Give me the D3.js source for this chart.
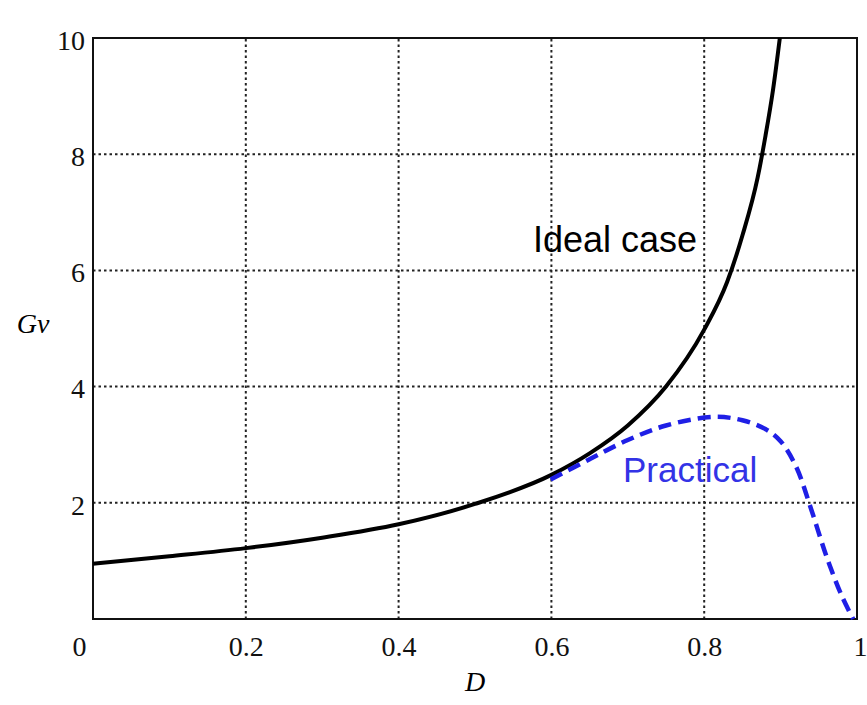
<!DOCTYPE html>
<html>
<head>
<meta charset="utf-8">
<script src="https://cdn.jsdelivr.net/npm/d3@7"></script>
<style>
  body { margin: 0; background: #fff; }
  svg { display: block; }
  .tick-label { font-family: 'Liberation Serif', 'DejaVu Serif', serif; font-size: 28px; fill: #111; }
</style>
</head>
<body>
<div id="chart"></div>
<script>
// Data
const idealD  = [0, 0.1, 0.2, 0.3, 0.4, 0.5, 0.6, 0.65, 0.7, 0.75, 0.8, 0.83, 0.85, 0.87, 0.88, 0.89, 0.899];
const idealGv = [0.95, 1.08, 1.22, 1.4, 1.63, 1.98, 2.48, 2.85, 3.33, 4.0, 4.98, 5.8, 6.6, 7.6, 8.3, 9.1, 10];

const practicalD  = [0.599, 0.65, 0.7, 0.75, 0.813, 0.85, 0.88, 0.9, 0.92, 0.94, 0.96, 0.98, 0.995];
const practicalGv = [2.4, 2.75, 3.08, 3.33, 3.48, 3.42, 3.27, 3.06, 2.63, 1.89, 1.08, 0.4, 0];

const xTicks = [0, 0.2, 0.4, 0.6, 0.8, 1];
const xTickLabels = ['0', '0.2', '0.4', '0.6', '0.8', '1'];
const yTicks = [2, 4, 6, 8, 10];

const width = 867, height = 705;
const margin = { top: 38, right: 10, bottom: 86, left: 93 };

const svg = d3.select('#chart').append('svg')
    .attr('width', width)
    .attr('height', height);

const x = d3.scaleLinear().domain([0, 1]).range([margin.left, width - margin.right]);
const y = d3.scaleLinear().domain([0, 10]).range([height - margin.bottom, margin.top]);

// dotted grid
svg.append('g')
    .selectAll('line')
    .data(xTicks.slice(1, -1))
    .join('line')
    .attr('x1', d => x(d)).attr('x2', d => x(d))
    .attr('y1', y(0)).attr('y2', y(10))
    .attr('stroke', '#222')
    .attr('stroke-width', 2)
    .attr('stroke-dasharray', '2.5,3');

svg.append('g')
    .selectAll('line')
    .data(yTicks.slice(0, -1))
    .join('line')
    .attr('x1', x(0)).attr('x2', x(1))
    .attr('y1', d => y(d)).attr('y2', d => y(d))
    .attr('stroke', '#222')
    .attr('stroke-width', 2)
    .attr('stroke-dasharray', '2.5,3');

// frame
svg.append('rect')
    .attr('x', x(0)).attr('y', y(10))
    .attr('width', x(1) - x(0))
    .attr('height', y(0) - y(10))
    .attr('fill', 'none')
    .attr('stroke', '#111')
    .attr('stroke-width', 2);

// axes (labels only, frame drawn above)
const xAxis = svg.append('g')
    .attr('transform', `translate(0,${y(0)})`)
    .call(d3.axisBottom(x).tickValues(xTicks).tickSize(0).tickPadding(17)
        .tickFormat((d, i) => xTickLabels[i]));
xAxis.select('.domain').remove();
xAxis.selectAll('text')
    .attr('class', 'tick-label')
    .attr('fill', null)
    .attr('dx', d => d === 0 ? -14 : (d === 1 ? 3 : 0));

const yAxis = svg.append('g')
    .attr('transform', `translate(${x(0)},0)`)
    .call(d3.axisLeft(y).tickValues(yTicks).tickSize(0).tickPadding(8));
yAxis.select('.domain').remove();
yAxis.selectAll('text')
    .attr('class', 'tick-label')
    .attr('fill', null)
    .attr('dy', '0.4em');

// axis titles
svg.append('text')
    .attr('x', 33).attr('y', 333)
    .attr('text-anchor', 'middle')
    .attr('font-family', "'Liberation Serif', serif")
    .attr('font-style', 'italic')
    .attr('font-size', 28)
    .text('Gv');

svg.append('text')
    .attr('x', (x(0) + x(1)) / 2).attr('y', 691)
    .attr('text-anchor', 'middle')
    .attr('font-family', "'Liberation Serif', serif")
    .attr('font-style', 'italic')
    .attr('font-size', 28)
    .text('D');

// curves
const line = d3.line()
    .x(d => x(d[0]))
    .y(d => y(d[1]))
    .curve(d3.curveMonotoneX);

svg.append('path')
    .datum(idealD.map((d, i) => [d, idealGv[i]]))
    .attr('fill', 'none')
    .attr('stroke', '#000')
    .attr('stroke-width', 4)
    .attr('d', line);

svg.append('path')
    .datum(practicalD.map((d, i) => [d, practicalGv[i]]))
    .attr('fill', 'none')
    .attr('stroke', '#1f1fe6')
    .attr('stroke-width', 4.5)
    .attr('stroke-dasharray', '13,7')
    .attr('d', d3.line().x(d => x(d[0])).y(d => y(d[1])).curve(d3.curveCatmullRom));

// annotations
svg.append('text')
    .attr('x', 533).attr('y', 252)
    .attr('font-family', "'Liberation Sans', Arial, sans-serif")
    .attr('font-size', 36)
    .attr('fill', '#000')
    .text('Ideal case');

svg.append('text')
    .attr('x', 623).attr('y', 482)
    .attr('font-family', "'Liberation Sans', Arial, sans-serif")
    .attr('font-size', 35)
    .attr('fill', '#3333e6')
    .text('Practical');
</script>
</body>
</html>
